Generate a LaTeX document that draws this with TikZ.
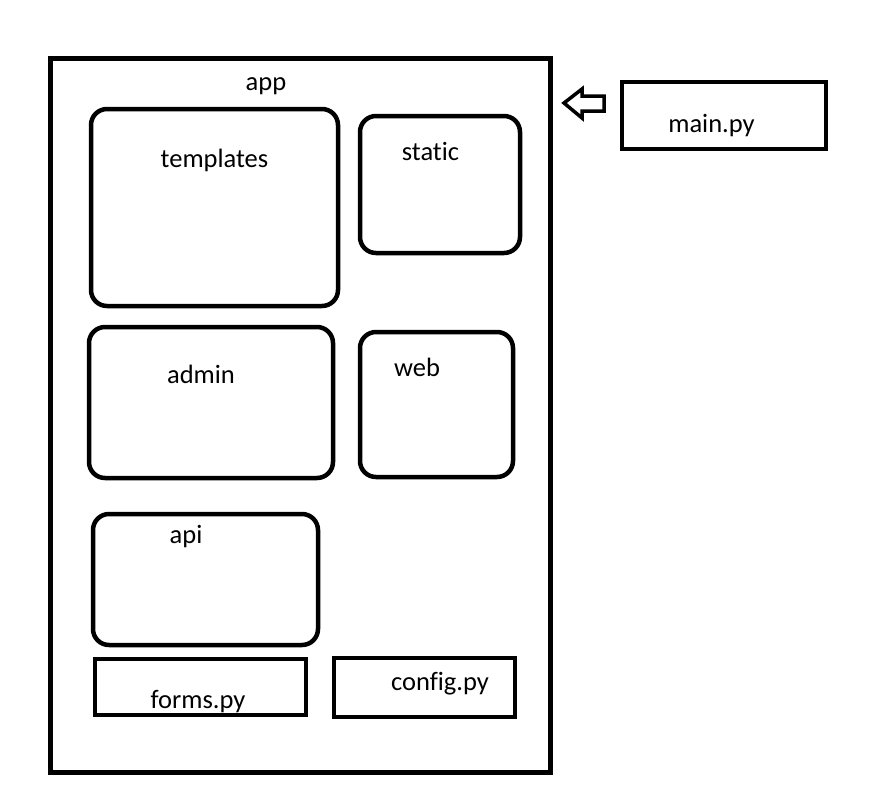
\documentclass[tikz,border=0pt]{standalone}
\usepackage{fontspec}
\setmainfont{Carlito}[Ligatures=NoCommon]
\begin{document}
\begin{tikzpicture}[x=1pt,y=-1pt,
  outerbox/.style={draw=black, line width=5pt, rectangle, inner sep=0pt, outer sep=0pt},
  rbox/.style={draw=black, line width=4.5pt, rectangle, rounded corners=16pt, inner sep=0pt, outer sep=0pt},
  fbox/.style={draw=black, line width=4.5pt, rectangle, inner sep=0pt, outer sep=0pt},
  lbl/.style={anchor=base, inner sep=0pt, font=\fontsize{26.5}{31}\selectfont},
  hollowarrow/.style={draw=black, line width=3.5pt, fill=white, line join=miter}]
\useasboundingbox (0,0) rectangle (879,796);
% boxes
\node[outerbox, minimum width=500, minimum height=714, anchor=north west] (app) at (50,58) {};
\node[rbox, minimum width=247, minimum height=197, anchor=north west] (templates) at (91,109) {};
\node[rbox, minimum width=160, minimum height=137, anchor=north west] (static) at (360,116) {};
\node[rbox, minimum width=244, minimum height=151, anchor=north west] (admin) at (89,327) {};
\node[rbox, minimum width=153, minimum height=145, anchor=north west] (web) at (360,332) {};
\node[rbox, minimum width=225, minimum height=131, anchor=north west] (api) at (93,514) {};
\node[fbox, minimum width=211, minimum height=56, anchor=north west] (forms) at (95,659) {};
\node[fbox, minimum width=181, minimum height=59, anchor=north west] (config) at (334,658) {};
\node[fbox, minimum width=204, minimum height=67, anchor=north west] (main) at (622,82) {};
% labels
\node[lbl] (applbl) at (266,90) {app};
\node[lbl] (templateslbl) at (214.5,167) {templates};
\node[lbl] (staticlbl) at (430.5,160) {static};
\node[lbl] (adminlbl) at (201,383) {admin};
\node[lbl] (weblbl) at (417,376) {web};
\node[lbl] (apilbl) at (186,543) {api};
\node[lbl] (formslbl) at (198,708) {forms.py};
\node[lbl] (configlbl) at (440,690) {config.py};
\node[lbl] (mainlbl) at (711.5,132) {main.py};
% hollow arrow from main.py towards app
\coordinate (tip) at (564,103);
\draw[hollowarrow] (tip) -- (582,89) -- (582,96) -- (604,96) -- (604,111) -- (582,111) -- (582,118) -- cycle;
\end{tikzpicture}
\end{document}
